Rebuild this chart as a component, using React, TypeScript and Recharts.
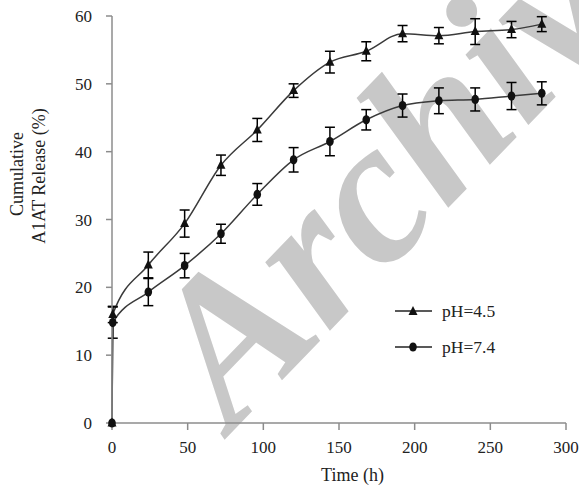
import React from 'react';
import { LineChart, Line, XAxis, YAxis, ErrorBar, Legend } from 'recharts';

const times = [0, 0.5, 24, 48, 72, 96, 120, 144, 168, 192, 216, 240, 264, 284];
const ph45Release = [0, 16, 23.3, 29.4, 38, 43.2, 49, 53.2, 54.8, 57.4, 57.1, 57.7, 58, 58.8];
const ph45Error = [0, 1.2, 1.9, 2.0, 1.5, 1.7, 1.0, 1.6, 1.4, 1.2, 1.2, 1.9, 1.2, 1.1];
const ph74Release = [0, 14.8, 19.3, 23.2, 27.9, 33.7, 38.8, 41.5, 44.7, 46.8, 47.5, 47.7, 48.2, 48.6];
const ph74Error = [0, 2.3, 2.0, 1.8, 1.4, 1.6, 1.8, 2.1, 1.5, 1.7, 1.9, 1.7, 2.0, 1.7];
const xTicks = [0, 50, 100, 150, 200, 250, 300];
const yTicks = [0, 10, 20, 30, 40, 50, 60];
const seriesNames = ['pH=4.5', 'pH=7.4'];

const ph45Data = times.map((t, i) => ({ t, v: ph45Release[i], e: ph45Error[i] }));
const ph74Data = times.map((t, i) => ({ t, v: ph74Release[i], e: ph74Error[i] }));

const FONT = "'Liberation Serif', 'Times New Roman', serif";
const AXIS = '#8c8c8c';
const INK = '#111';

const Triangle = ({ cx, cy }: any) => {
  if (cx == null || cy == null) return null;
  return <polygon points={`${cx},${cy - 5.5} ${cx - 4.5},${cy + 3.5} ${cx + 4.5},${cy + 3.5}`} fill={INK} />;
};

const Dot = ({ cx, cy }: any) => {
  if (cx == null || cy == null) return null;
  return <ellipse cx={cx} cy={cy} rx={3.8} ry={4.6} fill={INK} />;
};

const yLabel = () => (
  <g style={{ fontFamily: FONT }} fontSize={18} fill="#222">
    <text transform="translate(22.5,174) rotate(-90)" textAnchor="middle">Cumulative</text>
    <text transform="translate(45,176) rotate(-90)" textAnchor="middle">A1AT Release (%)</text>
  </g>
);

const xLabel = () => (
  <text x={352.5} y={481} textAnchor="middle" style={{ fontFamily: FONT }} fontSize={18} fill="#222">
    Time (h)
  </text>
);

const LegendBox = () => (
  <div style={{ fontFamily: FONT, fontSize: 17.5, color: '#222' }}>
    {seriesNames.map((name, i) => (
      <div key={name} style={{ display: 'flex', alignItems: 'center', height: 20, marginBottom: 16 }}>
        <svg width={37} height={12} style={{ marginRight: 10 }}>
          <line x1={0} y1={6} x2={37} y2={6} stroke="#222" strokeWidth={1.5} />
          {i === 0 ? <Triangle cx={18} cy={6.5} /> : <Dot cx={18} cy={6} />}
        </svg>
        <span>{name}</span>
      </div>
    ))}
  </div>
);

const tickStyle = { fill: '#222', fontSize: 17, style: { fontFamily: FONT } };

export default function App() {
  return (
    <div style={{ position: 'absolute', left: 0, top: 0, width: 579, height: 486, background: '#fff' }}>
      <svg width={579} height={486} style={{ position: 'absolute', left: 0, top: 0 }}>
        <text
          x={232}
          y={432}
          transform="rotate(-46, 232, 432)"
          style={{ fontFamily: FONT }}
          fontWeight="bold"
          fontStyle="italic"
          fontSize={205}
          fill="#c8c8c8"
        >
          Archive
        </text>
      </svg>
      <div style={{ position: 'absolute', left: 0, top: 0 }}>
        <LineChart width={579} height={486} margin={{ top: 16, right: 13, bottom: 23, left: 52 }}>
          <XAxis
            dataKey="t"
            type="number"
            domain={[0, 300]}
            ticks={xTicks}
            allowDuplicatedCategory={false}
            stroke={AXIS}
            strokeWidth={1.5}
            tickSize={7}
            tickMargin={11}
            height={40}
            tick={tickStyle}
            label={xLabel}
          />
          <YAxis
            dataKey="v"
            type="number"
            domain={[0, 60]}
            ticks={yTicks}
            stroke={AXIS}
            strokeWidth={1.5}
            tickSize={6}
            tickMargin={14}
            width={60}
            tick={tickStyle}
            label={yLabel}
          />
          <Legend
            layout="vertical"
            align="center"
            verticalAlign="middle"
            content={<LegendBox />}
            wrapperStyle={{ left: 395, top: 301, width: 'auto', bottom: 'auto' }}
          />
          <Line
            data={ph45Data}
            dataKey="v"
            name={seriesNames[0]}
            type="monotone"
            stroke="#3a3a3a"
            strokeWidth={1.5}
            dot={<Triangle />}
            activeDot={false}
            isAnimationActive={false}
          >
            <ErrorBar dataKey="e" direction="y" width={5} stroke="#000" strokeWidth={1.5} />
          </Line>
          <Line
            data={ph74Data}
            dataKey="v"
            name={seriesNames[1]}
            type="monotone"
            stroke="#3a3a3a"
            strokeWidth={1.5}
            dot={<Dot />}
            activeDot={false}
            isAnimationActive={false}
          >
            <ErrorBar dataKey="e" direction="y" width={5} stroke="#000" strokeWidth={1.5} />
          </Line>
        </LineChart>
      </div>
    </div>
  );
}
